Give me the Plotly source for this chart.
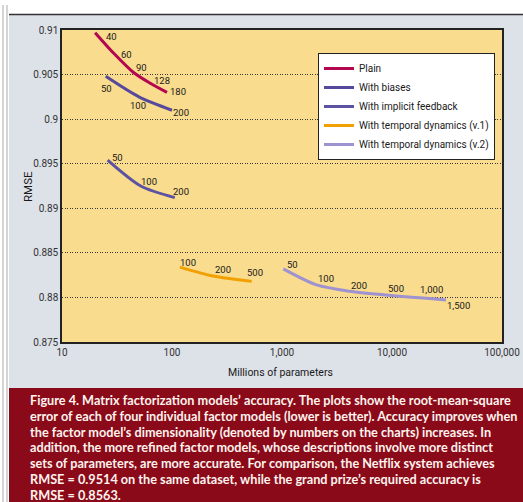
import math
import plotly.graph_objects as go

# ---------------- data ----------------
series_names = ["Plain", "With biases", "With implicit feedback",
                "With temporal dynamics (v.1)", "With temporal dynamics (v.2)"]

plain_params = [20, 30, 45, 64, 90]
plain_rmse = [0.9097, 0.9073, 0.9052, 0.9040, 0.9030]
plain_dims = ["40", "60", "90", "128", "180"]

biases_params = [25, 50, 100]
biases_rmse = [0.9048, 0.9025, 0.9010]
biases_dims = ["50", "100", "200"]

implicit_params = [26, 52, 106]
implicit_rmse = [0.8954, 0.8925, 0.8912]
implicit_dims = ["50", "100", "200"]

tdv1_params = [118, 236, 530]
tdv1_rmse = [0.8834, 0.8824, 0.8818]
tdv1_dims = ["100", "200", "500"]

tdv2_params = [1028, 2060, 4100, 10300, 20600, 31000]
tdv2_rmse = [0.8832, 0.8814, 0.8807, 0.8802, 0.8799, 0.8797]
tdv2_dims = ["50", "100", "200", "500", "1,000", "1,500"]

x_tickvals = [10, 100, 1000, 10000, 100000]
x_ticktext = ["10", "100", "1,000", "10,000", "100,000"]
y_tickvals = [0.875, 0.88, 0.885, 0.89, 0.895, 0.9, 0.905, 0.91]
y_ticktext = ["0.875", "0.88", "0.885", "0.89", "0.895", "0.9", "0.905", "0.91"]

caption_lines = [
    "Figure 4. Matrix factorization models\u2019 accuracy. The plots show the root-mean-square",
    "error of each of four individual factor models (lower is better). Accuracy improves when",
    "the factor model\u2019s dimensionality (denoted by numbers on the charts) increases. In",
    "addition, the more refined factor models, whose descriptions involve more distinct",
    "sets of parameters, are more accurate. For comparison, the Netflix system achieves",
    "RMSE = 0.9514 on the same dataset, while the grand prize\u2019s required accuracy is",
    "RMSE = 0.8563.",
]

# ---------------- styling ----------------
colors = ["#b3074f", "#56489b", "#5b53a1", "#f2a000", "#9e93d0"]
# label pixel offsets (dx, dy up) per point
offsets = [
    [(16, -4), (12, 0), (8, 5), (11, 3), (11, 1)],
    [(1, -12), (-1, -9), (9, -2)],
    [(10, 3), (8, 5), (6, 6)],
    [(8, 5), (10, 7), (3, 9)],
    [(9, 4), (9, 6), (10, 6), (3, 7), (5, 9), (12, -5)],
]

all_series = [
    (plain_params, plain_rmse, plain_dims),
    (biases_params, biases_rmse, biases_dims),
    (implicit_params, implicit_rmse, implicit_dims),
    (tdv1_params, tdv1_rmse, tdv1_dims),
    (tdv2_params, tdv2_rmse, tdv2_dims),
]

W, H = 523, 502
ML, MR, MT, MB = 62, 21, 30, 160
PW, PH = W - ML - MR, H - MT - MB


def px(x):
    return (x - ML) / PW


def py(y):
    return (H - MB - y) / PH


small = "Roboto, Liberation Sans, sans-serif"

fig = go.Figure()
annotations = []
for i, (xs, ys, dims) in enumerate(all_series):
    fig.add_trace(go.Scatter(
        x=xs, y=ys, mode="lines", name=series_names[i],
        line=dict(color=colors[i], width=3, shape="spline", smoothing=0.8),
        hoverinfo="skip",
    ))
    for j, (xv, yv, d) in enumerate(zip(xs, ys, dims)):
        dx, dy = offsets[i][j]
        annotations.append(dict(
            x=math.log10(xv), y=yv, xref="x", yref="y", text=d, showarrow=False,
            xanchor="center", yanchor="middle", xshift=dx, yshift=dy,
            font=dict(family=small, size=9.5, color="#1a1a1a"),
        ))

# axis titles
annotations.append(dict(x=px(28), y=py(187), xref="paper", yref="paper", text="RMSE",
                        showarrow=False, textangle=-90, xanchor="center", yanchor="middle",
                        font=dict(family=small, size=11.5, color="#1a1a1a")))
annotations.append(dict(x=px(280), y=py(372), xref="paper", yref="paper",
                        text="Millions of parameters", showarrow=False,
                        xanchor="center", yanchor="middle",
                        font=dict(family=small, size=10.5, color="#1a1a1a")))

# caption
for k, line in enumerate(caption_lines):
    annotations.append(dict(x=px(28), y=py(400 + k * 15.8), xref="paper", yref="paper",
                            text="<b>" + line + "</b>",
                            showarrow=False, xanchor="left", yanchor="middle",
                            font=dict(family="Lato, sans-serif", size=12.7, color="#fdf3ee")))

shapes = [
    dict(type="rect", xref="paper", yref="paper", x0=px(9), x1=px(W + 2), y0=py(388), y1=py(15),
         fillcolor="#dde1e8", line=dict(width=0), layer="below"),
    dict(type="rect", xref="paper", yref="paper", x0=px(9), x1=px(W + 2), y0=py(H + 2), y1=py(388),
         fillcolor="#8b0a19", line=dict(width=0), layer="below"),
    dict(type="rect", xref="paper", yref="paper", x0=0, x1=1, y0=0, y1=1,
         fillcolor="#f9dc8e", line=dict(width=0), layer="below"),
    dict(type="line", xref="paper", yref="paper", x0=px(9), x1=px(W + 2), y0=py(14.5), y1=py(14.5),
         line=dict(color="#333333", width=1.5), layer="below"),
    dict(type="line", xref="paper", yref="paper", x0=px(3), x1=px(3), y0=py(5), y1=py(H + 2),
         line=dict(color="#a9a9a9", width=1), layer="below"),
    dict(type="line", xref="paper", yref="paper", x0=px(7), x1=px(7), y0=py(5), y1=py(H + 2),
         line=dict(color="#a9a9a9", width=1), layer="below"),
]

fig.update_layout(
    width=W, height=H,
    margin=dict(l=ML, r=MR, t=MT, b=MB, autoexpand=False),
    paper_bgcolor="white", plot_bgcolor="rgba(0,0,0,0)",
    showlegend=True,
    legend=dict(x=px(318), y=py(53), xanchor="left", yanchor="top",
                bgcolor="white", bordercolor="#222222", borderwidth=1,
                font=dict(family=small, size=10, color="#1a1a1a"),
                itemwidth=30, tracegroupgap=0),
    annotations=annotations, shapes=shapes,
    xaxis=dict(type="log", range=[1, 5], tickvals=x_tickvals, ticktext=x_ticktext,
               showgrid=False, zeroline=False, ticks="", showline=True, mirror=True,
               linecolor="#222222", linewidth=1.5,
               tickfont=dict(family=small, size=10, color="#333333")),
    yaxis=dict(range=[0.875, 0.91], tickvals=y_tickvals, ticktext=y_ticktext,
               showgrid=True, gridcolor="#3a3a3a", gridwidth=1, griddash="1px,1.5px",
               zeroline=False, ticks="", showline=True, mirror=True,
               linecolor="#222222", linewidth=1.5,
               tickfont=dict(family=small, size=10, color="#333333")),
)

fig.write_html("out.html", config={"displayModeBar": False},
               post_script="document.body.style.margin='0';document.body.style.overflow='hidden';")
